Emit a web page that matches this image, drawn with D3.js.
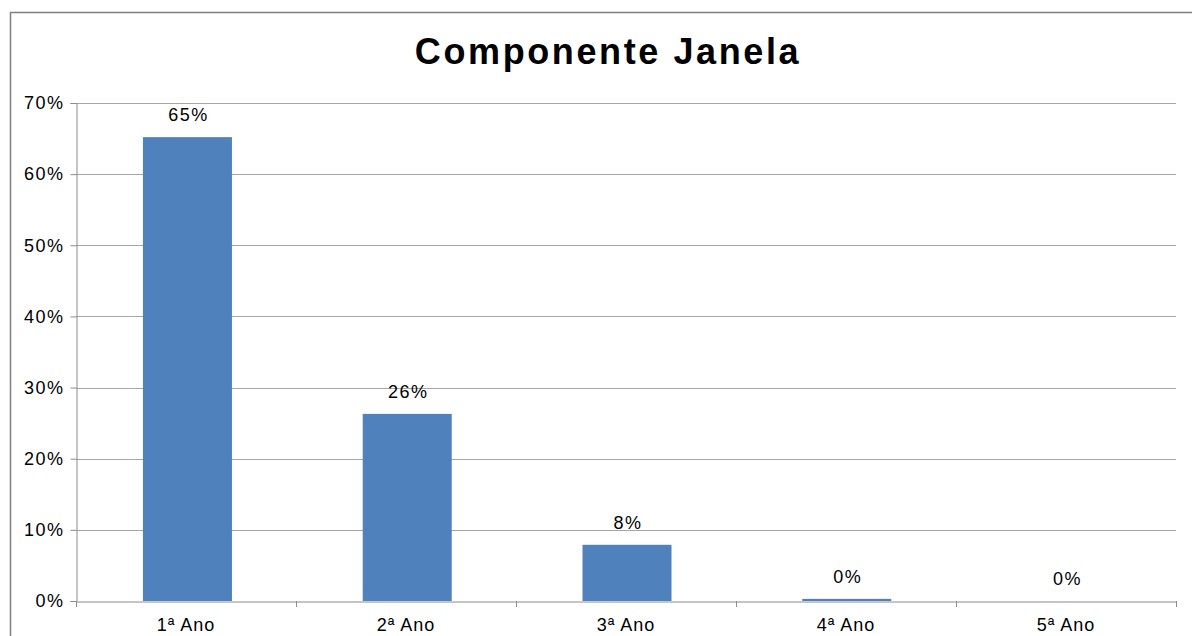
<!DOCTYPE html>
<html><head><meta charset="utf-8">
<script src="https://cdn.jsdelivr.net/npm/d3@7"></script>
<style>body{margin:0;background:#fff;}svg{display:block;}</style>
</head><body>
<svg id="c" width="1192" height="636"></svg>
<script>
const categories = ["1ª Ano","2ª Ano","3ª Ano","4ª Ano","5ª Ano"];
const values = [65.2, 26.3, 7.9, 0.3, 0];
const valueLabels = ["65%","26%","8%","0%","0%"];
const yTicks = [0,10,20,30,40,50,60,70];
const title = "Componente Janela";

(function(){
const svg = d3.select("#c");
const font = "'Liberation Sans', Arial, sans-serif";
const pL = 76, pR = 1176, pT = 103, pB = 601;

// outer frame
svg.append("path").attr("d", `M10.5,636 V12.5 H1192`).attr("fill","none").attr("stroke","#808080").attr("stroke-width",1.5);

const x = d3.scaleBand().domain(categories).range([pL+1,pR+1]).paddingInner(0.595).paddingOuter(0.3);
const xb = d3.scaleBand().domain(categories).range([pL,pR]);
const y = d3.scaleLinear().domain([0,70]).range([pB,pT]);

// gridlines
svg.append("g").selectAll("line").data(yTicks.filter(d=>d>0)).join("line")
  .attr("x1",pL).attr("x2",pR).attr("y1",d=>Math.round(y(d))+0.5).attr("y2",d=>Math.round(y(d))+0.5)
  .attr("stroke","#a6a6a6").attr("stroke-width",1);

// bars
svg.append("g").selectAll("rect").data(values).join("rect")
  .attr("x",(d,i)=>x(categories[i])).attr("width",x.bandwidth())
  .attr("y",d=>y(d)).attr("height",d=>pB-y(d)).attr("fill","#4F81BD");

// y axis
const ya = svg.append("g").attr("transform",`translate(${pL+0.5},0)`)
  .call(d3.axisLeft(y).tickValues(yTicks).tickFormat(d=>d+"%").tickSize(6).tickPadding(6));
ya.select(".domain").attr("stroke","#8c8c8c");
ya.selectAll(".tick line").attr("stroke","#8c8c8c");
ya.selectAll("text").attr("font-family",font).attr("font-size",18).attr("letter-spacing","1.5px").attr("fill","#000");

// x axis
const xa = svg.append("g").attr("transform",`translate(0,${pB+0.5})`)
  .call(d3.axisBottom(xb).tickSize(0).tickPadding(17));
xa.select(".domain").attr("stroke","#8c8c8c");
xa.selectAll("text").attr("font-family",font).attr("font-size",18).attr("letter-spacing","1px").attr("fill","#000");
// category boundary ticks
svg.append("g").selectAll("line").data(d3.range(categories.length+1)).join("line")
  .attr("x1",i=>Math.round(pL+i*xb.step())+0.5).attr("x2",i=>Math.round(pL+i*xb.step())+0.5)
  .attr("y1",pB).attr("y2",pB+6).attr("stroke","#8c8c8c");

// value labels
svg.append("g").selectAll("text").data(values).join("text")
  .attr("x",(d,i)=>x(categories[i])+x.bandwidth()/2+1).attr("y",d=>y(d)-16)
  .attr("text-anchor","middle").attr("font-family",font).attr("font-size",18).attr("letter-spacing","1.5px").attr("fill","#000")
  .text((d,i)=>valueLabels[i]);

// title
svg.append("text").attr("x",608).attr("y",64).attr("text-anchor","middle")
  .attr("font-family",font).attr("font-size",36).attr("font-weight","bold").attr("letter-spacing","2.6px").text(title);
})();
</script>
</body></html>
